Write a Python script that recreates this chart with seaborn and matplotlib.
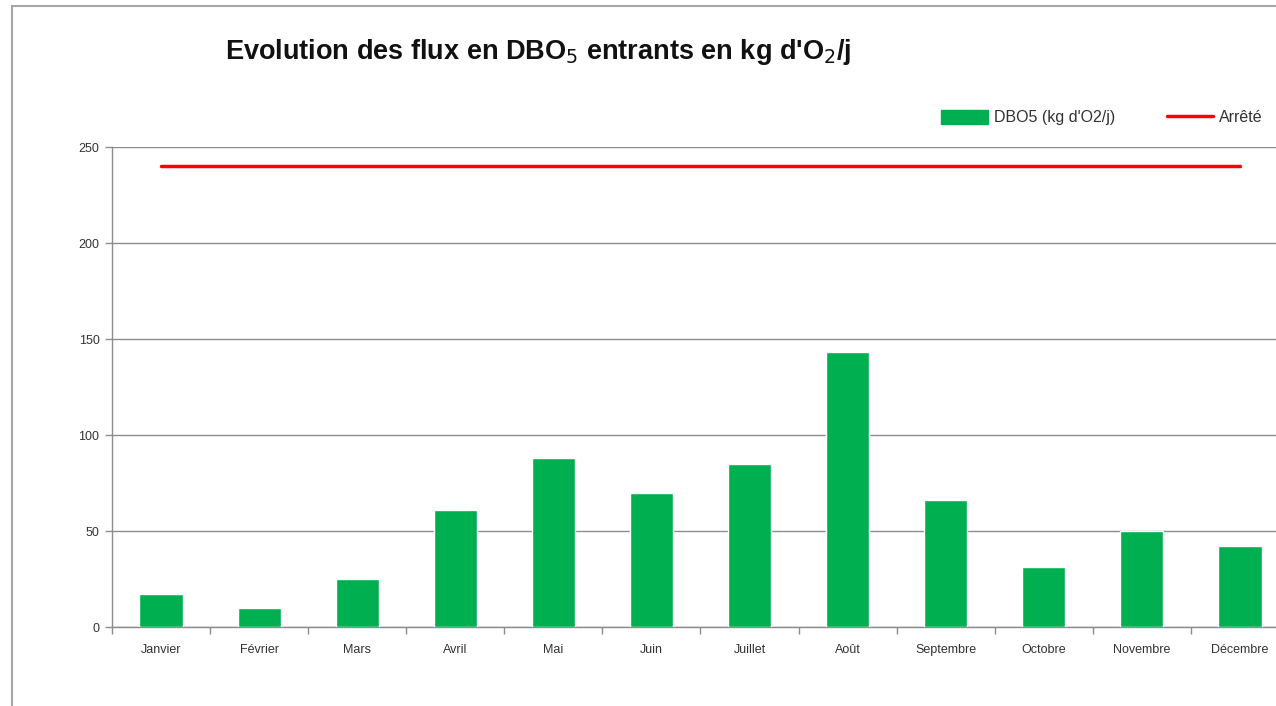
import numpy as np
import matplotlib
matplotlib.use("Agg")
import matplotlib.pyplot as plt
import matplotlib.patches as mpatches
from matplotlib.lines import Line2D
import seaborn as sns

# monthly inflow values (kg O2/day)
mois = ["Janvier", "Février", "Mars", "Avril", "Mai", "Juin",
        "Juillet", "Août", "Septembre", "Octobre", "Novembre", "Décembre"]
dbo5 = [17, 10, 25, 61, 88, 70, 85, 143, 66, 31, 50, 42]
arrete = [240] * 12  # regulatory limit
yticks = [0, 50, 100, 150, 200, 250]

vert = "#00B050"
rouge = "#FF0000"
gris = "#8C8C8C"

sns.set_theme(style="white")
plt.rcParams["font.family"] = ["Liberation Sans", "DejaVu Sans"]

fig = plt.figure(figsize=(12.76, 7.06), dpi=100)
ax = fig.add_axes([112 / 1276, 79 / 706, 1177 / 1276, 480 / 706])

sns.barplot(x=mois, y=dbo5, color=vert, width=0.44, saturation=1, ax=ax, zorder=3)
sns.lineplot(x=np.arange(len(mois)), y=arrete, color=rouge, linewidth=2.5, ax=ax, zorder=4)

ax.set_xlim(-0.5, 11.5)
ax.set_ylim(0, 250)
ax.set_yticks(yticks)
ax.set_yticklabels([str(v) for v in yticks])
ax.set_xlabel("")
ax.set_ylabel("")
ax.yaxis.grid(True, color=gris, linewidth=1)
ax.set_axisbelow(True)

for s in ["top", "right"]:
    ax.spines[s].set_visible(False)
for s in ["left", "bottom"]:
    ax.spines[s].set_color(gris)
    ax.spines[s].set_linewidth(1)

ax.tick_params(axis="y", length=5, width=1, color=gris, left=True,
               labelsize=9, labelcolor="#333333", pad=4)
ax.tick_params(axis="x", which="major", length=0, labelsize=9,
               labelcolor="#333333", pad=12)
ax.set_xticks(np.arange(-0.5, 12, 1), minor=True)
ax.tick_params(axis="x", which="minor", length=5, width=1, color=gris, bottom=True)

fig.text(0.4216, 0.927, "Evolution des flux en DBO$_5$ entrants en kg d'O$_2$/j",
         ha="center", va="center", fontsize=19.5, fontweight="bold", color="#111111")

handles = [mpatches.Patch(color=vert, label="DBO5 (kg d'O2/j)"),
           Line2D([0], [0], color=rouge, linewidth=2.5, label="Arrêté")]
fig.legend(handles=handles, loc="center right", bbox_to_anchor=(1.001, 0.833),
           ncol=2, frameon=False, fontsize=11.5, handlelength=2.9, handleheight=0.9,
           columnspacing=3.2, handletextpad=0.4, labelcolor="#333333")

# outer chart border (cropped at right and bottom)
fig.add_artist(mpatches.Rectangle((12 / 1276, -0.1), 2, 1.1 - 6 / 706,
                                  transform=fig.transFigure, fill=False,
                                  edgecolor="#A6A6A6", linewidth=1.5))

fig.savefig("out.png", dpi=100)
